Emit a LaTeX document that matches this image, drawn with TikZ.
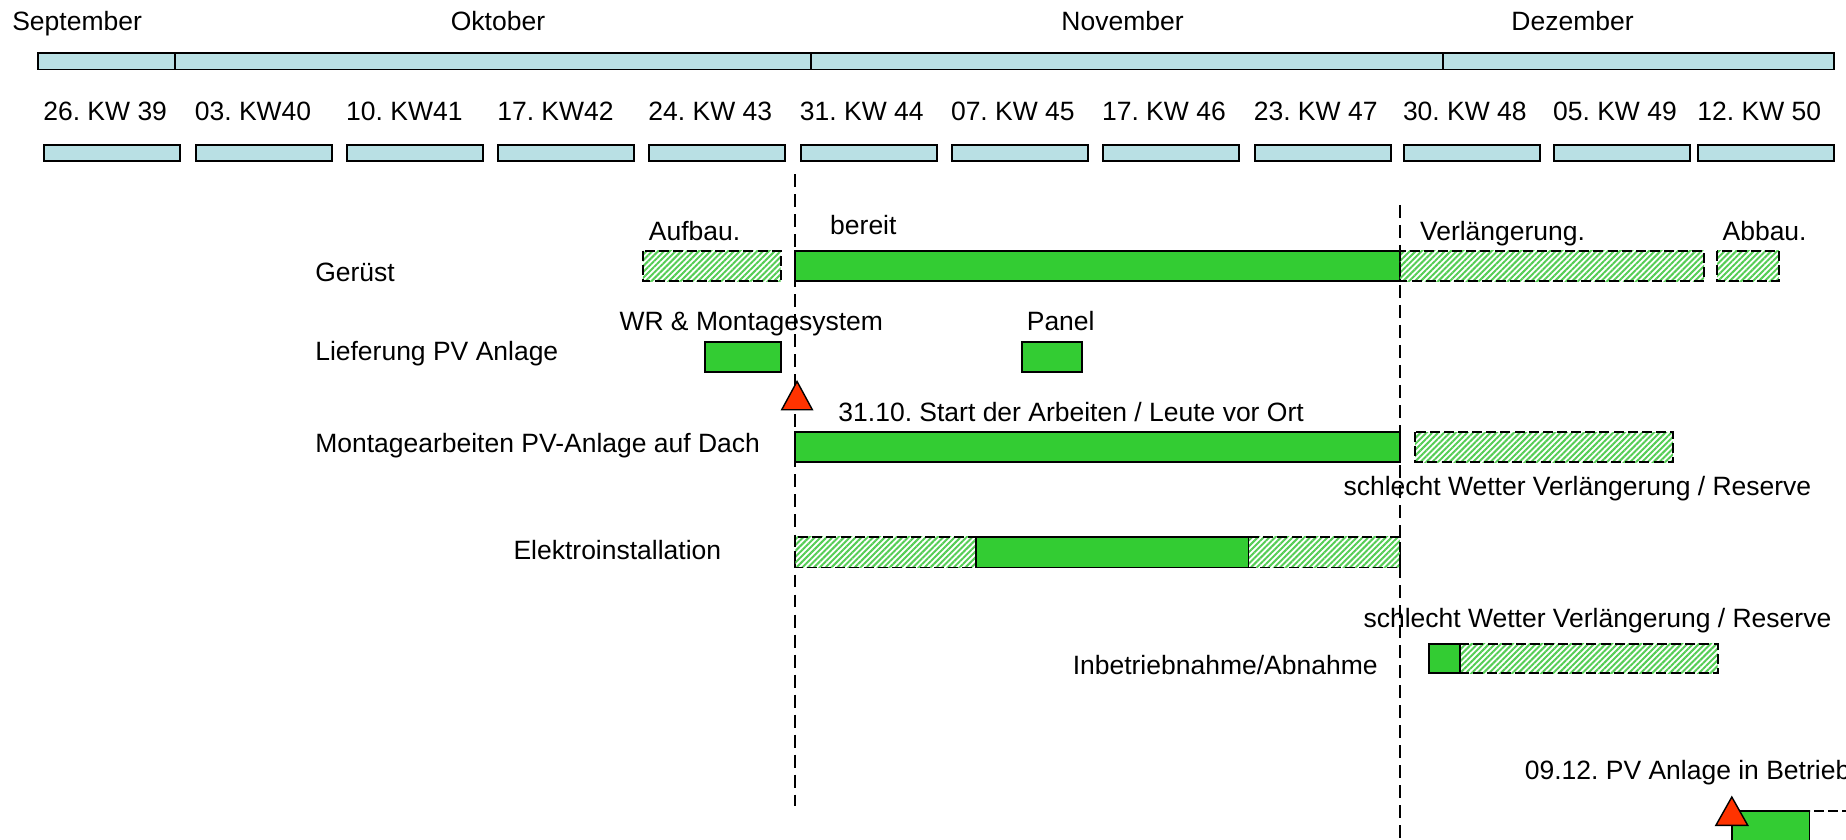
\documentclass[tikz,border=0pt]{standalone}
\usepackage{fontspec}
\setmainfont{Liberation Sans}
\usetikzlibrary{patterns.meta}
\frenchspacing
\definecolor{wkblue}{RGB}{185,224,228}
\definecolor{bargreen}{RGB}{51,204,51}
\definecolor{hatchgreen}{RGB}{85,205,85}
\definecolor{msred}{RGB}{255,51,0}
\begin{document}
\begin{tikzpicture}[x=1pt,y=-1pt,
  font=\fontsize{22.5}{27}\selectfont,
  lbl/.style={inner sep=0pt, anchor=base west},
  mlbl/.style={inner sep=0pt, anchor=base},
  wk/.style={draw=black, line width=1.6pt, fill=wkblue},
  solidbar/.style={draw=black, line width=1.6pt, fill=bargreen},
  hatchbar/.style={draw=black, line width=1.6pt, dash pattern=on 8.5pt off 3.5pt,
    pattern={Lines[angle=45,distance=3.5pt,line width=1.7pt]}, pattern color=hatchgreen},
  emptybar/.style={draw=black, line width=1.6pt, dash pattern=on 8.5pt off 3.5pt},
  vline/.style={line width=1.5pt, dash pattern=on 11pt off 6pt},
  milestone/.style={draw=black, line width=1.2pt, fill=msred, line join=miter}]
\useasboundingbox (0,0) rectangle (1568,713);
\clip (0,0) rectangle (1568,713);

% month header
\node[mlbl] (mSep) at (65.5,26) {September};
\node[mlbl] (mOkt) at (423,26) {Oktober};
\node[mlbl] (mNov) at (953.5,26) {November};
\node[mlbl] (mDez) at (1335.7,26) {Dezember};
\draw[wk] (32,45) rectangle (148.8,59);
\draw[wk] (148.8,45) rectangle (688.7,59);
\draw[wk] (688.7,45) rectangle (1226,59);
\draw[wk] (1226,45) rectangle (1558,59);

% week header
\foreach \x/\t [count=\i] in {37.6/{26. KW 39},166.3/{03. KW40},294.9/{10. KW41},423.2/{17. KW42},
  551.6/{24. KW 43},680.3/{31. KW 44},808.6/{07. KW 45},936.9/{17. KW 46},1065.8/{23. KW 47},
  1192.5/{30. KW 48},1320/{05. KW 49},1442.6/{12. KW 50}}{
  \node[lbl] (kw\i) at (\x-1,102) {\t};
  \draw[wk] (\x,123) rectangle ++(115.5,13.5);
}

% vertical dashed lines
\coordinate (v1top) at (675.5,148);
\coordinate (v1bot) at (675.5,685);
\coordinate (v2top) at (1189,174);
\coordinate (v2bot) at (1189,713);
\draw[vline] (v1top) -- (v1bot);
\draw[vline] (v2top) -- (v2bot);

% Geruest
\node[lbl] (geruest) at (267.6,239) {Gerüst};
\node[lbl] (aufbau) at (551,204.5) {Aufbau.};
\node[lbl] (bereit) at (705,199) {bereit};
\node[lbl] (verl) at (1206,204.5) {Verlängerung.};
\node[lbl] (abbau) at (1463,204.5) {Abbau.};
\draw[hatchbar] (546,213) rectangle (663,239);
\draw[solidbar] (675.5,213) rectangle (1189,239);
\draw[hatchbar] (1189,213) rectangle (1447.5,239);
\draw[hatchbar] (1458.5,213) rectangle (1511,239);

% Lieferung
\node[lbl] (liefer) at (267.6,306) {Lieferung PV Anlage};
\node[lbl] (wr) at (526,280.5) {WR \& Montagesystem};
\node[lbl] (panel) at (872,280.5) {Panel};
\draw[solidbar] (599,290.5) rectangle (663,316);
\draw[solidbar] (868,290.5) rectangle (919,316);

% Montage
\draw[milestone] (677,324) -- (690,348) -- (664,348) -- cycle;
\node[lbl] (start) at (712,358) {31.10. Start der Arbeiten / Leute vor Ort};
\node[lbl] (montage) at (267.6,384) {Montagearbeiten PV-Anlage auf Dach};
\draw[solidbar] (675.5,367) rectangle (1189,392.5);
\draw[hatchbar] (1202,367) rectangle (1421,392.5);
\node[lbl] (reserve1) at (1141,421) {schlecht Wetter Verlängerung / Reserve};

% Elektro
\node[lbl] (elektro) at (436,475) {Elektroinstallation};
\draw[hatchbar] (675.5,456) rectangle (829,482);
\draw[hatchbar] (1060.5,456) rectangle (1189,482);
\draw[solidbar] (829,456) rectangle (1060.5,482);

% Inbetriebnahme
\node[lbl] (reserve2) at (1158,533) {schlecht Wetter Verlängerung / Reserve};
\node[lbl] (inbetrieb) at (911,573) {Inbetriebnahme/Abnahme};
\draw[hatchbar] (1240,547) rectangle (1459,572);
\draw[solidbar] (1214,547) rectangle (1240,572);

% Betrieb
\node[lbl] (betrieb) at (1295,662.5) {09.12. PV Anlage in Betrieb};
\draw[emptybar] (1537,689) rectangle (1620,720);
\draw[solidbar] (1471,689) rectangle (1537,720);
\draw[milestone] (1471,677) -- (1484.5,701) -- (1457.5,701) -- cycle;
\end{tikzpicture}
\end{document}
